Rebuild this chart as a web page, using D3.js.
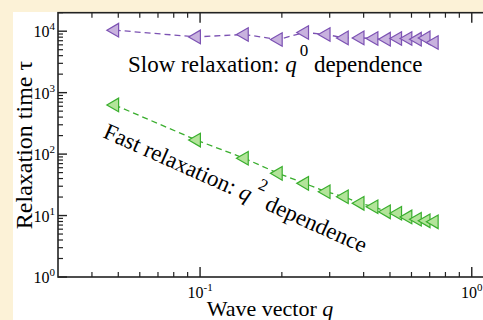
<!DOCTYPE html>
<html><head><meta charset="utf-8">
<script src="https://cdn.jsdelivr.net/npm/d3@7"></script>
<style>
html,body{margin:0;padding:0;background:#fcf2d7;}
svg{display:block;}
text{font-family:"Liberation Serif","Times New Roman",serif;fill:#000;}
</style></head>
<body><svg id="c" width="483" height="320"></svg>
<script>
const q = [0.0485,0.097,0.1455,0.194,0.2425,0.291,0.3395,0.388,0.4365,0.485,0.5335,0.582,0.6305,0.679,0.7275];
const tauSlow = [10400,8070,8840,7330,9530,8840,7780,7780,7610,7410,7610,7610,7410,7780,6550];
const tauFast = [631,169,85.5,48.6,33.4,24.4,20.2,15.8,13.9,11.5,10.9,9.5,8.7,8.2,7.9];
const xMajor = [0.1,1];
const xMinor = [0.04,0.05,0.06,0.07,0.08,0.09,0.2,0.3,0.4,0.5,0.6,0.7,0.8,0.9];
const yMajor = [1,10,100,1000,10000];
const xMajorExp = ["-1","0"];
const yMajorExp = ["0","1","2","3","4"];

const svg = d3.select("#c");
const L=58, T=12.7, B=277;
const decX = 271.7;
const R = L + decX*Math.log10(1.2/0.03);
const x = d3.scaleLog().domain([0.03,1.2]).range([L,R]);
const y = d3.scaleLog().domain([1,2e4]).range([B,T]);

svg.append("rect").attr("x",13).attr("y",12).attr("width",483).attr("height",320).attr("fill","#fff");

const g = svg.append("g");
const ax = "#222";
g.append("rect").attr("x",L).attr("y",T).attr("width",R-L).attr("height",B-T)
 .attr("fill","none").attr("stroke",ax).attr("stroke-width",1.6);

xMajor.forEach(v=>{
  g.append("line").attr("x1",x(v)).attr("x2",x(v)).attr("y1",B).attr("y2",B-10).attr("stroke",ax).attr("stroke-width",1.4);
  g.append("line").attr("x1",x(v)).attr("x2",x(v)).attr("y1",T).attr("y2",T+10).attr("stroke",ax).attr("stroke-width",1.4);
});
xMinor.forEach(v=>{
  g.append("line").attr("x1",x(v)).attr("x2",x(v)).attr("y1",B).attr("y2",B-5).attr("stroke",ax).attr("stroke-width",1.2);
  g.append("line").attr("x1",x(v)).attr("x2",x(v)).attr("y1",T).attr("y2",T+5).attr("stroke",ax).attr("stroke-width",1.2);
});
const yMinor=[];
[1,10,100,1000,10000].forEach(d=>{for(let k=2;k<=9;k++){const v=k*d; if(v<=2e4) yMinor.push(v);}});
yMajor.forEach(v=>{
  g.append("line").attr("x1",L).attr("x2",L+9).attr("y1",y(v)).attr("y2",y(v)).attr("stroke",ax).attr("stroke-width",1.4);
});
yMinor.forEach(v=>{
  g.append("line").attr("x1",L).attr("x2",L+5).attr("y1",y(v)).attr("y2",y(v)).attr("stroke",ax).attr("stroke-width",1.2);
});

xMajor.forEach((v,i)=>{
  const t = g.append("text").attr("x",x(v)).attr("y",298).attr("text-anchor","middle").style("font-size","16px");
  t.append("tspan").text("10");
  t.append("tspan").attr("dy",-7).style("font-size","11px").text(xMajorExp[i]);
});
yMajor.forEach((v,i)=>{
  const t = g.append("text").attr("x",55).attr("y",y(v)+6).attr("text-anchor","end").style("font-size","16px");
  t.append("tspan").text("10");
  t.append("tspan").attr("dy",-7).style("font-size","11px").text(yMajorExp[i]);
});

const xt = g.append("text").attr("x",270).attr("y",316).attr("text-anchor","middle").style("font-size","22px");
xt.append("tspan").text("Wave vector ");
xt.append("tspan").style("font-style","italic").text("q");
g.append("text").attr("transform","translate(32,145) rotate(-90)").attr("text-anchor","middle")
 .style("font-size","24px").text("Relaxation time \u03c4");

function series(vals, stroke, fill){
  const line = d3.line().x((d,i)=>x(q[i])).y(d=>y(d));
  g.append("path").datum(vals).attr("d",line).attr("fill","none").attr("stroke",stroke)
   .attr("stroke-width",1.3).attr("stroke-dasharray","6,4");
  const sym = d3.symbol().type(d3.symbolTriangle).size(80);
  g.selectAll(null).data(vals).enter().append("path")
   .attr("d",sym).attr("transform",(d,i)=>`translate(${x(q[i])},${y(d)}) rotate(-90)`)
   .attr("fill",fill).attr("stroke",stroke).attr("stroke-width",1.2);
}
series(tauSlow,"#7c52b3","#c8b2de");
series(tauFast,"#3aae2e","#b3e49a");

const s = g.append("text").attr("x",128).attr("y",72).style("font-size","23px");
s.append("tspan").text("Slow relaxation: ");
s.append("tspan").style("font-style","italic").text("q");
s.append("tspan").attr("dy",-16).attr("dx",3).style("font-size","17px").text("0");
s.append("tspan").attr("dy",16).text(" dependence");

const f = g.append("text").attr("transform","translate(102,137) rotate(24)").style("font-size","23px");
f.append("tspan").text("Fast relaxation: ");
f.append("tspan").style("font-style","italic").text("q");
f.append("tspan").attr("dy",-16).attr("dx",3).style("font-size","17px").text("2");
f.append("tspan").attr("dy",16).text(" dependence");
</script></body></html>
